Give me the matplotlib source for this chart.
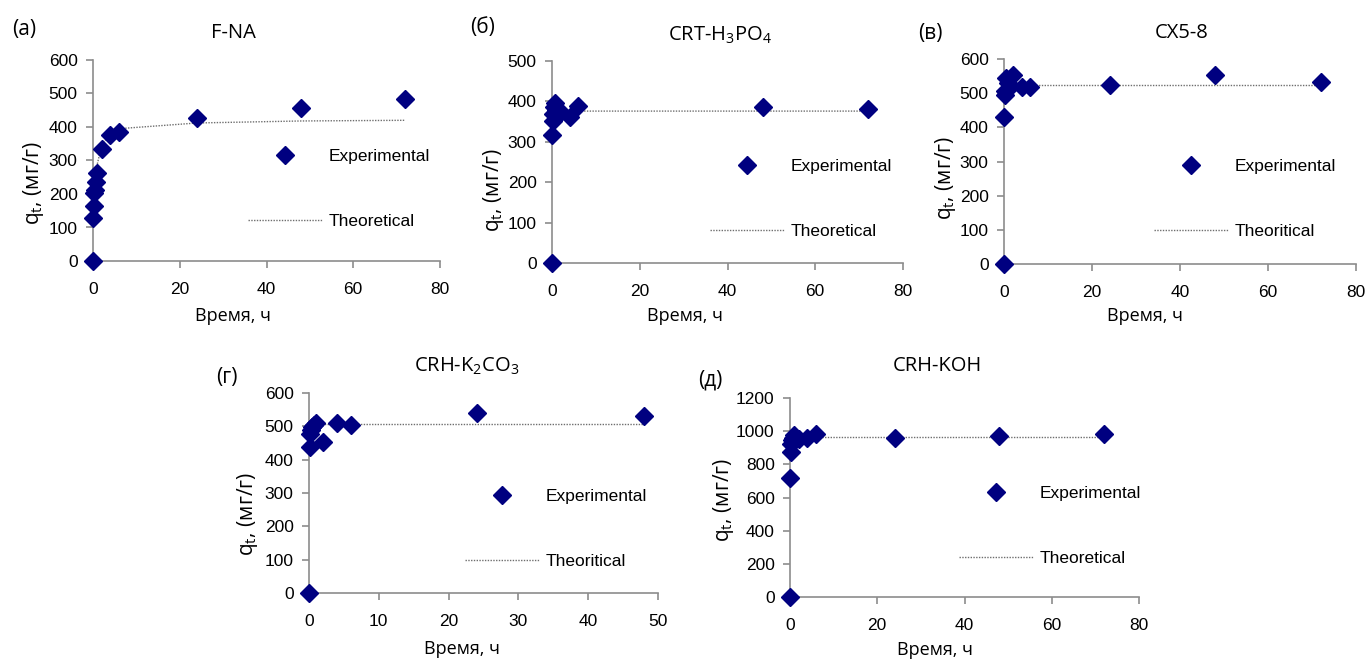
import matplotlib
matplotlib.use("Agg")
import matplotlib.pyplot as plt

W, H = 1366, 662

MARKER_COLOR = "#000080"
AXIS_COLOR = "#8c8c8c"

plt.rcParams['font.family'] = ['Liberation Sans', 'DejaVu Sans']

# (a) F-NA
fna_t = [0, 0.08, 0.17, 0.25, 0.5, 0.75, 1, 2, 4, 6, 24, 48, 72]
fna_q = [0, 128, 165, 203, 212, 237, 262, 333, 375, 385, 427, 457, 485]
fna_theo_t = [1, 2, 4, 6, 24, 48, 72]
fna_theo_q = [290, 345, 382, 395, 412, 418, 420]

# (б) CRT-H3PO4
crt_t = [0, 0.08, 0.17, 0.25, 0.5, 0.75, 1, 2, 4, 6, 48, 72]
crt_q = [0, 317, 352, 370, 385, 395, 378, 374, 362, 388, 387, 380]
crt_theo_t = [1, 2, 4, 6, 48, 72]
crt_theo_q = [374, 375, 376, 376, 376, 376]

# (в) CX5-8
cx_t = [0, 0.08, 0.17, 0.25, 0.5, 0.75, 1, 2, 4, 6, 24, 48, 72]
cx_q = [0, 429, 495, 505, 545, 510, 530, 553, 517, 517, 524, 553, 532]
cx_theo_t = [1, 2, 4, 6, 24, 48, 72]
cx_theo_q = [525, 525, 525, 525, 525, 525, 525]

# (г) CRH-K2CO3
k2co3_t = [0, 0.08, 0.17, 0.25, 0.5, 0.75, 1, 2, 4, 6, 24, 48]
k2co3_q = [0, 437, 478, 490, 498, 503, 510, 454, 511, 504, 539, 531]
k2co3_theo_t = [1, 2, 4, 6, 24, 48]
k2co3_theo_q = [506, 506, 506, 506, 506, 506]

# (д) CRH-KOH
koh_t = [0, 0.08, 0.17, 0.25, 0.5, 0.75, 1, 2, 4, 6, 24, 48, 72]
koh_q = [0, 720, 875, 925, 945, 960, 975, 950, 960, 980, 960, 970, 985]
koh_theo_t = [1, 2, 4, 6, 24, 48, 72]
koh_theo_q = [963, 963, 963, 963, 963, 963, 963]

# panel settings: data, title, letter, legend text, axis box (px), text positions (px)
panels = [
    dict(t=fna_t, q=fna_q, tt=fna_theo_t, tq=fna_theo_q,
         title="F-NA", letter="(a)", theo="Theoretical",
         box=(93, 60, 440, 261), xmax=80, xstep=20, ymax=600, ystep=100,
         title_xy=(233, 33), letter_xy=(24, 30), leg_xy=(248, 189),
         xlabel_xy=(233, 316), ylabel_xy=(33, 183)),
    dict(t=crt_t, q=crt_q, tt=crt_theo_t, tq=crt_theo_q,
         title="CRT-H$_\\mathregular{3}$PO$_\\mathregular{4}$", letter="(б)", theo="Theoretical",
         box=(552, 61, 903, 263), xmax=80, xstep=20, ymax=500, ystep=100,
         title_xy=(720, 35), letter_xy=(483, 27), leg_xy=(710, 199),
         xlabel_xy=(685, 316), ylabel_xy=(493, 190)),
    dict(t=cx_t, q=cx_q, tt=cx_theo_t, tq=cx_theo_q,
         title="CX5-8", letter="(в)", theo="Theoritical",
         box=(1004, 59, 1356, 264), xmax=80, xstep=20, ymax=600, ystep=100,
         title_xy=(1182, 33), letter_xy=(930, 33), leg_xy=(1154, 199),
         xlabel_xy=(1145, 316), ylabel_xy=(945, 178)),
    dict(t=k2co3_t, q=k2co3_q, tt=k2co3_theo_t, tq=k2co3_theo_q,
         title="CRH-K$_\\mathregular{2}$CO$_\\mathregular{3}$", letter="(г)", theo="Theoritical",
         box=(309, 393, 658, 593), xmax=50, xstep=10, ymax=600, ystep=100,
         title_xy=(467, 366), letter_xy=(227, 378), leg_xy=(465, 529),
         xlabel_xy=(462, 649), ylabel_xy=(247, 514)),
    dict(t=koh_t, q=koh_q, tt=koh_theo_t, tq=koh_theo_q,
         title="CRH-KOH", letter="(д)", theo="Theoretical",
         box=(790, 398, 1139, 597), xmax=80, xstep=20, ymax=1200, ystep=200,
         title_xy=(937, 366), letter_xy=(710, 380), leg_xy=(959, 526),
         xlabel_xy=(935, 650), ylabel_xy=(723, 500)),
]


def fig_xy(x, y):
    return x / W, 1 - y / H


fig = plt.figure(figsize=(W / 100, H / 100), dpi=100)

for p in panels:
    x0, y0, x1, y1 = p["box"]
    ax = fig.add_axes([x0 / W, 1 - y1 / H, (x1 - x0) / W, (y1 - y0) / H])

    ax.plot(p["tt"], p["tq"], linestyle=(0, (1, 1)), color="#6e6e6e", linewidth=1,
            label=p["theo"], zorder=2)
    ax.plot(p["t"], p["q"], linestyle="none", marker="D", markersize=8.8,
            color=MARKER_COLOR, label="Experimental", clip_on=False, zorder=5)

    ax.set_xlim(0, p["xmax"])
    ax.set_ylim(0, p["ymax"])
    ax.set_xticks(range(0, p["xmax"] + 1, p["xstep"]))
    ax.set_yticks(range(0, p["ymax"] + 1, p["ystep"]))

    for side in ["top", "right"]:
        ax.spines[side].set_visible(False)
    for side in ["left", "bottom"]:
        ax.spines[side].set_color(AXIS_COLOR)
        ax.spines[side].set_linewidth(1.2)
    ax.tick_params(axis="both", colors=AXIS_COLOR, labelcolor="black",
                   length=5, width=1.2, labelsize=12.5)
    ax.tick_params(axis="x", pad=10)
    ax.tick_params(axis="y", pad=6)

    # legend order: Experimental on top
    handles, labels = ax.get_legend_handles_labels()
    ax.legend(handles[::-1], labels[::-1], loc="center left", frameon=False,
              bbox_to_anchor=fig_xy(*p["leg_xy"]), bbox_transform=fig.transFigure,
              handlelength=4.3, handletextpad=0.35, labelspacing=2.85,
              borderpad=0, borderaxespad=0, numpoints=1, fontsize=12.5)

    fig.text(*fig_xy(*p["title_xy"]), p["title"], family="Open Sans", fontsize=14.5,
             ha="center", va="center")
    fig.text(*fig_xy(*p["letter_xy"]), p["letter"], family="Open Sans", fontsize=15,
             ha="center", va="center")
    fig.text(*fig_xy(*p["xlabel_xy"]), "Время, ч", family="Open Sans", fontsize=13,
             ha="center", va="center")
    fig.text(*fig_xy(*p["ylabel_xy"]), "q$_\\mathregular{t}$, (мг/г)", family="Open Sans",
             fontsize=15, rotation=90, ha="center", va="center")

fig.savefig("out.png", dpi=100)
